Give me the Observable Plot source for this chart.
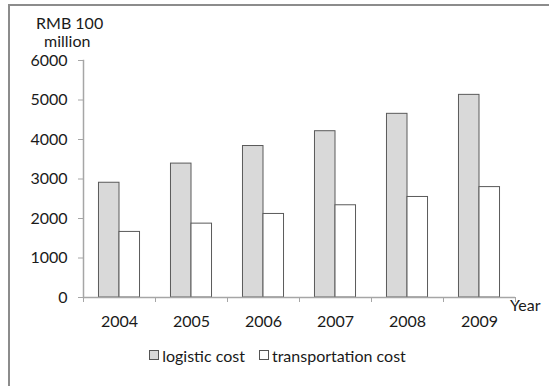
<!DOCTYPE html>
<html>
<head>
<meta charset="utf-8">
<script src="https://cdn.jsdelivr.net/npm/d3@7"></script>
<script src="https://cdn.jsdelivr.net/npm/@observablehq/plot@0.6"></script>
<style>
  html, body { margin: 0; padding: 0; background: #fff; }
  #wrap { position: relative; width: 549px; height: 386px; overflow: hidden; font-family: Lato, sans-serif; color: #1a1a1a; }
  #frame { position: absolute; left: 8px; top: 4px; width: 560px; height: 400px; border-top: 2px solid #8c8c8c; border-left: 2px solid #8c8c8c; box-sizing: border-box; }
  #chart { position: absolute; left: 0; top: 0; }
  .lbl { position: absolute; font-size: 16px; line-height: 1; white-space: nowrap; }
  #legend { position: absolute; top: 344px; left: 0; width: 549px; text-align: center; font-size: 16px; padding-left: 6px; box-sizing: border-box; }
  .item { display: inline-flex; align-items: center; margin: 0 7px; }
  .sw { display: inline-block; width: 8px; height: 8px; border: 1px solid #555; margin-right: 3px; }
</style>
</head>
<body>
<div id="wrap">
  <div id="frame"></div>
  <div id="chart"></div>
  <div class="lbl" id="ylab1" style="left:36px; top:15px;">RMB 100</div>
  <div class="lbl" id="ylab2" style="left:44px; top:33px;">million</div>
  <div class="lbl" id="xlab" style="left:510px; top:297px;">Year</div>
  <div id="legend"></div>
</div>
<script>
const years = [2004, 2005, 2006, 2007, 2008, 2009];
const logisticCost = [2905, 3390, 3835, 4210, 4650, 5130];
const transportationCost = [1660, 1870, 2115, 2335, 2545, 2795];
const seriesNames = ["logistic cost", "transportation cost"];
const seriesFill = ["#d9d9d9", "#ffffff"];
const yTicks = [0, 1000, 2000, 3000, 4000, 5000, 6000];

const barShare = 0.285; // bar width as share of one year slot
const bounds = years.map(y => y - 0.5).concat([years[years.length - 1] + 0.5]);

const logisticData = years.map((y, i) => ({year: y, value: logisticCost[i]}));
const transportData = years.map((y, i) => ({year: y, value: transportationCost[i]}));

const axisGray = "#a6a6a6";
const barStroke = "#5a5a5a";

const plot = Plot.plot({
  width: 549,
  height: 386,
  marginLeft: 83,
  marginRight: 34,
  marginTop: 60,
  marginBottom: 89,
  style: {fontFamily: "Lato, sans-serif", fontSize: "16px", color: "#1a1a1a", background: "transparent"},
  x: {domain: [bounds[0], bounds[bounds.length - 1]]},
  y: {domain: [0, 6000]},
  marks: [
    Plot.rectY(logisticData, {x1: d => d.year - barShare, x2: d => d.year, y: "value", fill: seriesFill[0], stroke: barStroke, strokeWidth: 1}),
    Plot.rectY(transportData, {x1: d => d.year, x2: d => d.year + barShare, y: "value", fill: seriesFill[1], stroke: barStroke, strokeWidth: 1}),
    Plot.frame({anchor: "left", stroke: axisGray, strokeWidth: 1.5}),
    Plot.ruleY([0], {stroke: axisGray, strokeWidth: 1.5}),
    Plot.axisY({ticks: yTicks, tickSize: 5, tickPadding: 11, stroke: axisGray, tickFormat: d => String(d), label: null}),
    Plot.axisX({ticks: bounds, tickSize: 5, tickFormat: () => "", stroke: axisGray, label: null}),
    Plot.axisX({ticks: years, tickSize: 0, tickPadding: 18, tickFormat: d => String(d), label: null})
  ]
});
document.getElementById("chart").appendChild(plot);

const legend = document.getElementById("legend");
seriesNames.forEach((name, i) => {
  const item = document.createElement("span");
  item.className = "item";
  const sw = document.createElement("span");
  sw.className = "sw";
  sw.style.background = seriesFill[i];
  item.appendChild(sw);
  item.appendChild(document.createTextNode(name));
  legend.appendChild(item);
});
</script>
</body>
</html>
